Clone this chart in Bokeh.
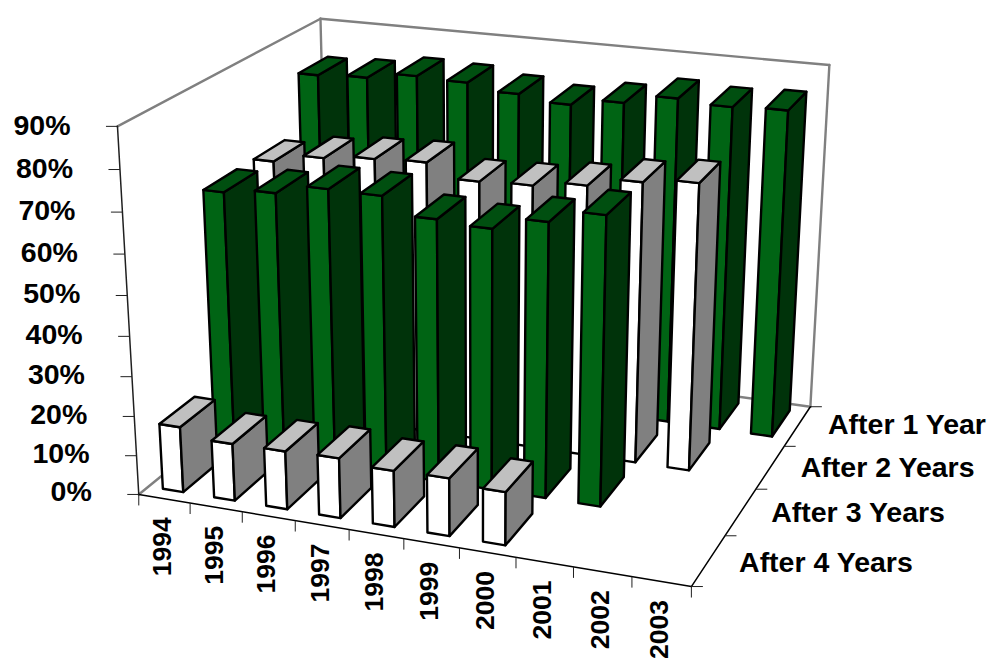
import numpy as np
from bokeh.plotting import figure
from bokeh.models import Range1d, ColumnDataSource
from bokeh.core.properties import value
from bokeh.embed import file_html
from bokeh.resources import INLINE

# ---- data -------------------------------------------------------------
years = ["1994","1995","1996","1997","1998","1999","2000","2001","2002","2003"]
series = ["After 4 Years","After 3 Years","After 2 Years","After 1 Year"]
after_1_year  = [81.2,81.8,83.5,83.1,81.5,80.1,81.9,84.3,83.5,84.0]
after_2_years = [66.1,68.4,69.6,70.2,66.9,67.4,68.9,71.2,72.5]
after_3_years = [66.2,67.5,70.0,69.9,65.8,65.1,68.3,71.5]
after_4_years = [16.7,14.5,14.7,15.1,14.1,14.4,13.2]
pct_ticks = [0,10,20,30,40,50,60,70,80,90]

# ---- 3-D projection: (year slot, series slot, percent) -> pixel ---------
calib = [((0,0,0),(138.5,492.5)),((10,0,0),(690.5,587.5)),((10,4,0),(810,404)),
         ((0,4,0),(327,342)),((0,0,90),(116,126.5)),((0,4,90),(321,17)),
         ((10,4,90),(828.5,65.5)),((0,0,20),(134.5,415)),((10,1,0),(725,536)),
         ((10,2,0),(755,489)),((10,3,0),(784,445))]
A, b = [], []
for (x,y,z),(u,v) in calib:
    A.append([x,y,z,1,0,0,0,0,-u*x,-u*y,-u*z]); b.append(u)
    A.append([0,0,0,0,x,y,z,1,-v*x,-v*y,-v*z]); b.append(v)
P = np.append(np.linalg.lstsq(np.array(A,float),np.array(b,float),rcond=None)[0],1).reshape(3,4)
def proj(x,y,z):
    r = P @ np.array([x,y,z,1.0])
    return float(r[0]/r[2]), float(r[1]/r[2])

p = figure(width=989, height=660, output_backend="svg", toolbar_location=None,
           x_range=Range1d(0,989), y_range=Range1d(660,0),
           x_axis_location=None, y_axis_location=None, min_border=0,
           outline_line_color=None)
p.grid.visible = False

def seg(pts, color, width):
    p.line([q[0] for q in pts],[q[1] for q in pts],line_color=color,line_width=width,line_cap="round",line_join="round")

# walls and floor (grey)
G = "#808080"
for a,c in [((0,0,90),(0,4,90)),((0,4,90),(10,4,90)),((0,4,90),(0,4,0)),
            ((10,4,90),(10,4,0)),((10,4,0),(0,4,0)),((0,4,0),(0,0,0))]:
    seg([proj(*a),proj(*c)],G,2.4)

# axes (black)
seg([proj(0,0,0),proj(0,0,90)],"#202020",1.5)
seg([proj(0,0,0),proj(10,0,0)],"black",1.5)
seg([proj(10,0,0),proj(10,4,0)],"black",1.5)
tx0,ty0,tx1,ty1 = [],[],[],[]
for t in pct_ticks:
    u,v = proj(0,0,t); tx0.append(u); ty0.append(v); tx1.append(u-11.5); ty1.append(v)
for i in range(len(years)+1):
    u,v = proj(i,0,0); tx0.append(u); ty0.append(v); tx1.append(u); ty1.append(v+11)
for k in range(len(series)+1):
    u,v = proj(10,k,0); tx0.append(u); ty0.append(v); tx1.append(u+11.5); ty1.append(v)
p.segment(tx0,ty0,tx1,ty1,line_color="#202020",line_width=1)

# bars, painted back to front and left to right
X0, X1, Y0, Y1 = 0.28, 0.68, 0.18, 0.84
styles = {"green":("#006414","#00330A","#004F10"),"white":("#FFFFFF","#808080","#C0C0C0")}
rows = [(3,after_1_year,"green"),(2,after_2_years,"white"),(1,after_3_years,"green"),(0,after_4_years,"white")]
xs, ys, fills = [], [], []
for k,vals,st in rows:
    for i,val in enumerate(vals):
        x0,x1,y0,y1 = i+X0,i+X1,k+Y0,k+Y1
        faces = [[(x0,y0,0),(x1,y0,0),(x1,y0,val),(x0,y0,val)],
                 [(x1,y0,0),(x1,y1,0),(x1,y1,val),(x1,y0,val)],
                 [(x0,y0,val),(x1,y0,val),(x1,y1,val),(x0,y1,val)]]
        for f,col in zip(faces,styles[st]):
            pts = [proj(*c) for c in f]
            xs.append([q[0] for q in pts]); ys.append([q[1] for q in pts]); fills.append(col)
p.patches("xs","ys",source=ColumnDataSource(dict(xs=xs,ys=ys,fill=fills)),
          fill_color="fill",line_color="black",line_width=2.4,line_join="round")

# labels
FONT = value("Liberation Sans")
lx = [proj(0,0,t)[0]-47 for t in pct_ticks]
ly = [proj(0,0,t)[1]-3+t/60 for t in pct_ticks]
p.text(lx,ly,text=[f"{t}%" for t in pct_ticks],text_font=FONT,text_font_style="bold",
       text_font_size="28.5px",text_align="right",text_baseline="middle",text_color="black")
yx = [proj(i+.5,0,0)[0]-2.5 for i in range(len(years))]
yy = [proj(i+.5,0,0)[1]+18.5 for i in range(len(years))]
p.text(yx,yy,text=years,angle=np.pi/2,text_font=FONT,text_font_style="bold",
       text_font_size="26.5px",text_align="right",text_baseline="middle",text_color="black")
sx = [proj(10,k+.5,0)[0]+30.5 for k in range(len(series))]
sy = [proj(10,k+.5,0)[1]+1-k*0.9 for k in range(len(series))]
p.text(sx,sy,text=series,text_font=FONT,text_font_style="bold",
       text_font_size="28.5px",text_align="left",text_baseline="middle",text_color="black")

open("out.html","w").write(file_html(p,INLINE))
